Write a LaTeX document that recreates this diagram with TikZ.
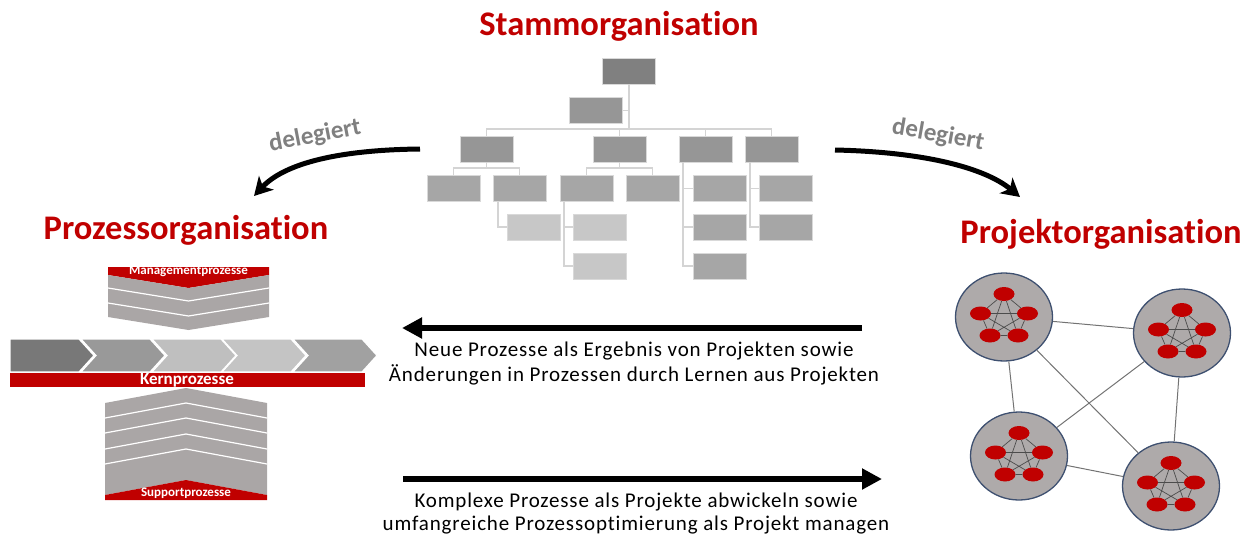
\documentclass[tikz,border=0pt]{standalone}
\usepackage{fontspec}
\setmainfont[Ligatures={NoCommon}]{Carlito}
\newfontfamily\spacedfont[LetterSpace=4,Ligatures={NoCommon}]{Carlito}
\usetikzlibrary{arrows.meta,shapes.geometric,calc}
\definecolor{dred}{HTML}{C00000}
\definecolor{conncol}{HTML}{D4D4D4}
\definecolor{procgrey}{HTML}{AAA6A6}
\definecolor{netfill}{HTML}{AEAAAA}
\definecolor{netborder}{HTML}{3E5070}
\begin{document}
\begin{tikzpicture}[x=1pt,y=-1pt,
  title/.style={text=dred,font=\fontsize{34.5}{36}\selectfont\bfseries,anchor=base,inner sep=0},
  deleg/.style={text=black!50,font=\fontsize{25}{26}\selectfont\bfseries,inner sep=0},
  midtext/.style={font=\spacedfont\fontsize{21}{25}\selectfont,align=center,anchor=base,inner sep=0},
  orgbox/.style={rectangle,minimum width=53,minimum height=26,inner sep=0,draw=white!85!black,line width=0.6},
  conn/.style={draw=conncol,line width=1.6},
  bigarrow/.style={line width=6.5,-{Triangle[length=20pt,width=20pt]}},
  curvarrow/.style={line width=5,-{Stealth[length=18pt,width=20pt,inset=5pt]}},
  bandtext/.style={text=white,font=\bfseries,inner sep=0},
  cluster/.style={ellipse,minimum width=97,minimum height=88,fill=netfill,draw=netborder,line width=1.3,inner sep=0},
  member/.style={ellipse,minimum width=21,minimum height=14,fill=dred,inner sep=0},
  inedge/.style={draw=black!70,line width=0.7},
  outedge/.style={draw=black!55,line width=1},
]
\useasboundingbox (0,0) rectangle (1253,538);

% ---------- titles ----------
\node[title] (tstamm) at (619,35) {Stammorganisation};
\node[title] (tproz) at (186,239) {Prozessorganisation};
\node[title] (tproj) at (1101,243) {Projektorganisation};

% ---------- org chart ----------
\node[orgbox,fill=black!50] (top) at (629,71) {};
\node[orgbox,fill=black!41] (asst) at (596,110.5) {};
\node[orgbox,fill=black!41] (a) at (486.5,149) {};
\node[orgbox,fill=black!41] (b) at (619.5,149) {};
\node[orgbox,fill=black!41] (c) at (705.5,149) {};
\node[orgbox,fill=black!41] (d) at (771.5,149) {};
\node[orgbox,fill=black!35] (a1) at (453.5,188.5) {};
\node[orgbox,fill=black!35] (a2) at (519.5,188.5) {};
\node[orgbox,fill=black!35] (b1) at (586.5,188.5) {};
\node[orgbox,fill=black!35] (b2) at (652.5,188.5) {};
\node[orgbox,fill=black!35] (c1) at (719.5,188.5) {};
\node[orgbox,fill=black!35] (d1) at (785.5,188.5) {};
\node[orgbox,fill=black!22] (a2x) at (533.5,227) {};
\node[orgbox,fill=black!22] (b1x) at (600,227) {};
\node[orgbox,fill=black!22] (b1y) at (600,266) {};
\node[orgbox,fill=black!35] (c2) at (719.5,227) {};
\node[orgbox,fill=black!35] (c3) at (719.5,266) {};
\node[orgbox,fill=black!35] (d2) at (785.5,227) {};

\coordinate (bus) at (629,129);
\coordinate (abus) at (486.5,168);
\coordinate (bbus) at (619.5,168);
\draw[conn] (top.south) -- (bus);
\draw[conn] (asst.east) -- (asst.east -| top.south);
\draw[conn] (a.north) |- (bus);
\draw[conn] (d.north) |- (bus);
\draw[conn] (b.north) -- (b.north |- bus);
\draw[conn] (c.north) -- (c.north |- bus);
\draw[conn] (a.south) -- (abus);
\draw[conn] (a1.north) |- (abus);
\draw[conn] (a2.north) |- (abus);
\draw[conn] (b.south) -- (bbus);
\draw[conn] (b1.north) |- (bbus);
\draw[conn] (b2.north) |- (bbus);
\draw[conn] ([xshift=-21.5]a2.south) |- (a2x.west);
\draw[conn] ([xshift=-22.5]b1.south) |- (b1x.west);
\draw[conn] ([xshift=-22.5]b1.south) |- (b1y.west);
\draw[conn] ([xshift=-22.5]c.south) |- (c1.west);
\draw[conn] ([xshift=-22.5]c.south) |- (c2.west);
\draw[conn] ([xshift=-22.5]c.south) |- (c3.west);
\draw[conn] ([xshift=-21.5]d.south) |- (d1.west);
\draw[conn] ([xshift=-21.5]d.south) |- (d2.west);

% ---------- delegiert arrows ----------
\coordinate (dlstart) at (420,149);
\coordinate (dlend) at (254,196);
\coordinate (drstart) at (835,150);
\coordinate (drend) at (1020,197);
\draw[curvarrow] (dlstart) .. controls (330,150) and (282,166) .. (dlend);
\draw[curvarrow] (drstart) .. controls (925,152) and (985,168) .. (drend);
\node[deleg,rotate=11] (dl) at (315,136) {delegiert};
\node[deleg,rotate=-10] (dr) at (938,135) {delegiert};

% ---------- process organisation ----------
% management
\fill[dred] (108,267) -- (269,267) -- (269,275) -- (188.5,288) -- (108,275) -- cycle;
\fill[procgrey] (108,275) -- (188.5,288) -- (269,275) -- (269,317) -- (188.5,330) -- (108,317) -- cycle;
\draw[white,line width=1.2] (108,288) -- (188.5,301) -- (269,288);
\draw[white,line width=1.2] (108,303) -- (188.5,316) -- (269,303);
\node[bandtext,font=\fontsize{13}{14}\selectfont\bfseries] (mgmt) at (188.5,271) {Managementprozesse};
% core chain
\fill[black!53,draw=white,line width=1.2] (10,339) -- (79,339) -- (94,355.5) -- (79,372) -- (10,372) -- cycle;
\fill[black!40,draw=white,line width=1.2] (81,339) -- (150,339) -- (165,355.5) -- (150,372) -- (81,372) -- (96,355.5) -- cycle;
\fill[black!25,draw=white,line width=1.2] (152,339) -- (221,339) -- (236,355.5) -- (221,372) -- (152,372) -- (167,355.5) -- cycle;
\fill[black!23,draw=white,line width=1.2] (222,339) -- (291,339) -- (306,355.5) -- (291,372) -- (222,372) -- (237,355.5) -- cycle;
\fill[black!37,draw=white,line width=1.2] (293,339) -- (362,339) -- (377,355.5) -- (362,372) -- (293,372) -- (308,355.5) -- cycle;
\fill[dred] (10,373) rectangle (365,387);
\node[bandtext,font=\fontsize{17}{18}\selectfont\bfseries] (kern) at (187,380.5) {Kernprozesse};
% support
\fill[procgrey] (105,403) -- (186,388) -- (267,403) -- (267,495) -- (186,480) -- (105,495) -- cycle;
\foreach \s in {418,433,449,464}
  \draw[white,line width=1.2] (105,\s) -- (186,\s-15) -- (267,\s);
\fill[dred] (105,495) -- (186,480) -- (267,495) -- (267,500) -- (105,500) -- cycle;
\node[bandtext,font=\fontsize{13}{14}\selectfont\bfseries] (supp) at (186,493) {Supportprozesse};

% ---------- middle arrows ----------
\coordinate (ulstart) at (862,328);
\coordinate (ulend) at (402,328);
\coordinate (lrstart) at (403,479);
\coordinate (lrend) at (882,479);
\draw[bigarrow] (ulstart) -- (ulend);
\draw[bigarrow] (lrstart) -- (lrend);
\node[midtext] (uptext) at (634,381.7) {Neue Prozesse als Ergebnis von Projekten sowie\\Änderungen in Prozessen durch Lernen aus Projekten};
\node[midtext,font=\spacedfont\fontsize{21}{23}\selectfont] (lowtext) at (636,530) {Komplexe Prozesse als Projekte abwickeln sowie\\umfangreiche Prozessoptimierung als Projekt managen};

% ---------- project network ----------
\node[cluster] (p1) at (1004,317) {};
\node[cluster] (p2) at (1182,333) {};
\node[cluster] (p3) at (1019,456) {};
\node[cluster] (p4) at (1171,486) {};
\foreach \p in {p1,p2,p3,p4}{
  \node[member] (\p a) at ($(\p)+(0,-23)$) {};
  \node[member] (\p b) at ($(\p)+(-23.5,-3.5)$) {};
  \node[member] (\p c) at ($(\p)+(23.5,-3.5)$) {};
  \node[member] (\p d) at ($(\p)+(-14,18.5)$) {};
  \node[member] (\p e) at ($(\p)+(14,18.5)$) {};
  \draw[inedge] (\p a) -- (\p b) (\p a) -- (\p c) (\p b) -- (\p d) (\p c) -- (\p e) (\p d) -- (\p e)
    (\p a) -- (\p d) (\p a) -- (\p e) (\p b) -- (\p c) (\p b) -- (\p e) (\p c) -- (\p d);
}
\draw[outedge] (p1) -- (p2);
\draw[outedge] (p1) -- (p3);
\draw[outedge] (p1) -- (p4);
\draw[outedge] (p2) -- (p3);
\draw[outedge] (p2) -- (p4);
\draw[outedge] (p3) -- (p4);
\end{tikzpicture}
\end{document}
